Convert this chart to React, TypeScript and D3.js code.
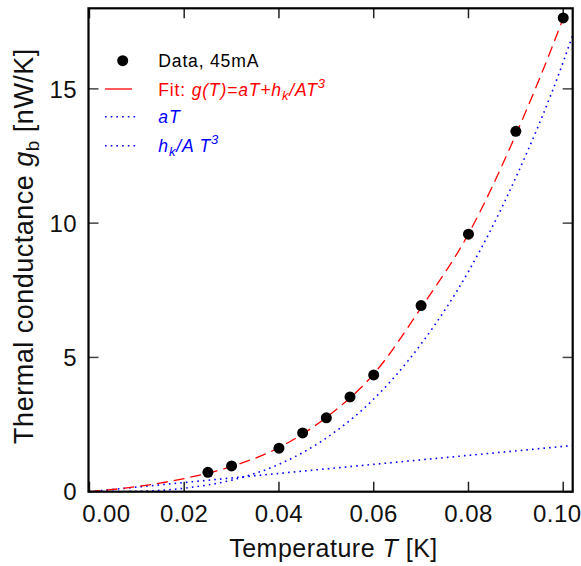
import React from "react";
import * as d3 from "d3";

// Measured data (T in K, g in nW/K)
const dataT = [0.025, 0.03, 0.04, 0.045, 0.05, 0.055, 0.06, 0.07, 0.08, 0.09, 0.1];
const dataG = [0.72, 0.96, 1.62, 2.19, 2.75, 3.53, 4.35, 6.93, 9.59, 13.42, 17.64];

// Fit curve
const fitT = [0, 0.01, 0.02, 0.03, 0.04, 0.05, 0.06, 0.07, 0.08, 0.09, 0.1, 0.102];
const fitG = [0, 0.19, 0.49, 0.94, 1.64, 2.77, 4.38, 6.85, 9.6, 13.3, 17.64, 18.6];

// Linear component aT
const linT = [0, 0.05, 0.102];
const linG = [0, 0.85, 1.72];

// Cubic component hk/A T^3
const cubT = [0, 0.01, 0.02, 0.03, 0.04, 0.05, 0.06, 0.07, 0.08, 0.09, 0.1, 0.102];
const cubG = [0, 0.016, 0.13, 0.43, 1.02, 2.0, 3.45, 5.5, 8.2, 11.7, 16.0, 17.0];

const xTicks = [0, 0.02, 0.04, 0.06, 0.08, 0.1];
const yTicks = [0, 5, 10, 15];

const FONT = "'Liberation Sans', Arial, Helvetica, sans-serif";

export default function App() {
  const W = 581, H = 566;
  const L = 88.5, R = 572.7, T = 8.3, B = 491.7;
  const x = d3.scaleLinear().domain([-0.0002, 0.102]).range([L, R]);
  const y = d3.scaleLinear().domain([0, 18]).range([B, T]);

  const line = d3
    .line<[number, number]>()
    .x((d) => x(d[0]))
    .y((d) => y(d[1]))
    .curve(d3.curveMonotoneX);

  const fitPath = line(fitT.map((t, i) => [t, fitG[i]]) as [number, number][]) || "";
  const linPath = line(linT.map((t, i) => [t, linG[i]]) as [number, number][]) || "";
  const cubPath = line(cubT.map((t, i) => [t, cubG[i]]) as [number, number][]) || "";

  const tickLen = 10;
  const labelShift = (i: number) => (i === 0 ? 17 : i === xTicks.length - 1 ? -6 : 0);

  return (
    <svg
      width={W}
      height={H}
      style={{ position: "absolute", left: 0, top: 0, background: "#fff" }}
      fontFamily={FONT}
    >
      <defs>
        <clipPath id="plot">
          <rect x={L} y={T} width={R - L} height={B - T} />
        </clipPath>
      </defs>
      <rect x={0} y={0} width={W} height={H} fill="#fff" />

      {/* ticks on all four sides */}
      {xTicks.map((t) => (
        <g key={"xt" + t} stroke="#222" strokeWidth={1.5}>
          <line x1={x(t)} x2={x(t)} y1={B} y2={B - tickLen} />
          <line x1={x(t)} x2={x(t)} y1={T} y2={T + tickLen} />
        </g>
      ))}
      {yTicks.map((v) => (
        <g key={"yt" + v} stroke="#444" strokeWidth={1.5}>
          <line x1={L} x2={L + tickLen} y1={y(v)} y2={y(v)} />
          <line x1={R} x2={R - tickLen} y1={y(v)} y2={y(v)} />
        </g>
      ))}

      {/* curves */}
      <g clipPath="url(#plot)" fill="none">
        <path d={linPath} stroke="#0000ff" strokeWidth={1.6} strokeDasharray="1.6,4.1" />
        <path d={cubPath} stroke="#0000ff" strokeWidth={1.6} strokeDasharray="1.6,4.1" />
        <path d={fitPath} stroke="#ff0000" strokeWidth={1.3} strokeDasharray="11,6" />
      </g>

      {/* data points */}
      {dataT.map((t, i) => (
        <circle key={"p" + i} cx={x(t)} cy={y(dataG[i])} r={5.5} fill="#000" />
      ))}

      {/* frame */}
      <rect x={L} y={T} width={R - L} height={B - T} fill="none" stroke="#000" strokeWidth={2.2} />

      {/* tick labels */}
      {xTicks.map((t, i) => (
        <text
          key={"xl" + t}
          x={x(t) + labelShift(i)}
          y={521.5}
          fontSize={24}
          letterSpacing={0.4}
          textAnchor="middle"
          fill="#111"
        >
          {d3.format(".2f")(t)}
        </text>
      ))}
      {yTicks.map((v) => (
        <text
          key={"yl" + v}
          x={77}
          y={y(v)}
          dy="0.36em"
          fontSize={24}
          letterSpacing={0.4}
          textAnchor="end"
          fill="#111"
        >
          {v}
        </text>
      ))}

      {/* axis titles */}
      <text x={333.5} y={556.7} fontSize={25} letterSpacing={0.5} textAnchor="middle" fill="#111">
        Temperature <tspan fontStyle="italic">T</tspan> [K]
      </text>
      <text
        transform={`translate(32.5, 246) rotate(-90)`}
        fontSize={27}
        letterSpacing={0.5}
        textAnchor="middle"
        fill="#111"
      >
        Thermal conductance <tspan fontStyle="italic">g</tspan>
        <tspan fontSize={19} dy={6}>b</tspan>
        <tspan dy={-6}> [nW/K]</tspan>
      </text>

      {/* legend */}
      <g fontSize={17.6} letterSpacing={0.8}>
        <circle cx={122.7} cy={60.7} r={5.5} fill="#000" />
        <text x={158.3} y={66.7} fill="#000">Data, 45mA</text>

        <line x1={105} x2={132} y1={89} y2={89} stroke="#ff0000" strokeWidth={1.3} />
        <text x={158.3} y={96} fill="#ff0000">
          Fit: <tspan fontStyle="italic">g(T)=aT+h</tspan>
          <tspan fontStyle="italic" fontSize={13} dy={4}>k</tspan>
          <tspan fontStyle="italic" dy={-4}>/AT</tspan>
          <tspan fontStyle="italic" fontSize={13} dy={-8}>3</tspan>
        </text>

        <line x1={105} x2={138} y1={116.7} y2={116.7} stroke="#0000ff" strokeWidth={1.6} strokeDasharray="1.6,4.1" />
        <text x={158.3} y={123.3} fill="#0000ff" fontStyle="italic">aT</text>

        <line x1={105} x2={138} y1={145.7} y2={145.7} stroke="#0000ff" strokeWidth={1.6} strokeDasharray="1.6,4.1" />
        <text x={158.3} y={151.7} fill="#0000ff" fontStyle="italic">
          h<tspan fontSize={13} dy={4}>k</tspan>
          <tspan dy={-4}>/A T</tspan>
          <tspan fontSize={13} dy={-8}>3</tspan>
        </text>
      </g>
    </svg>
  );
}
